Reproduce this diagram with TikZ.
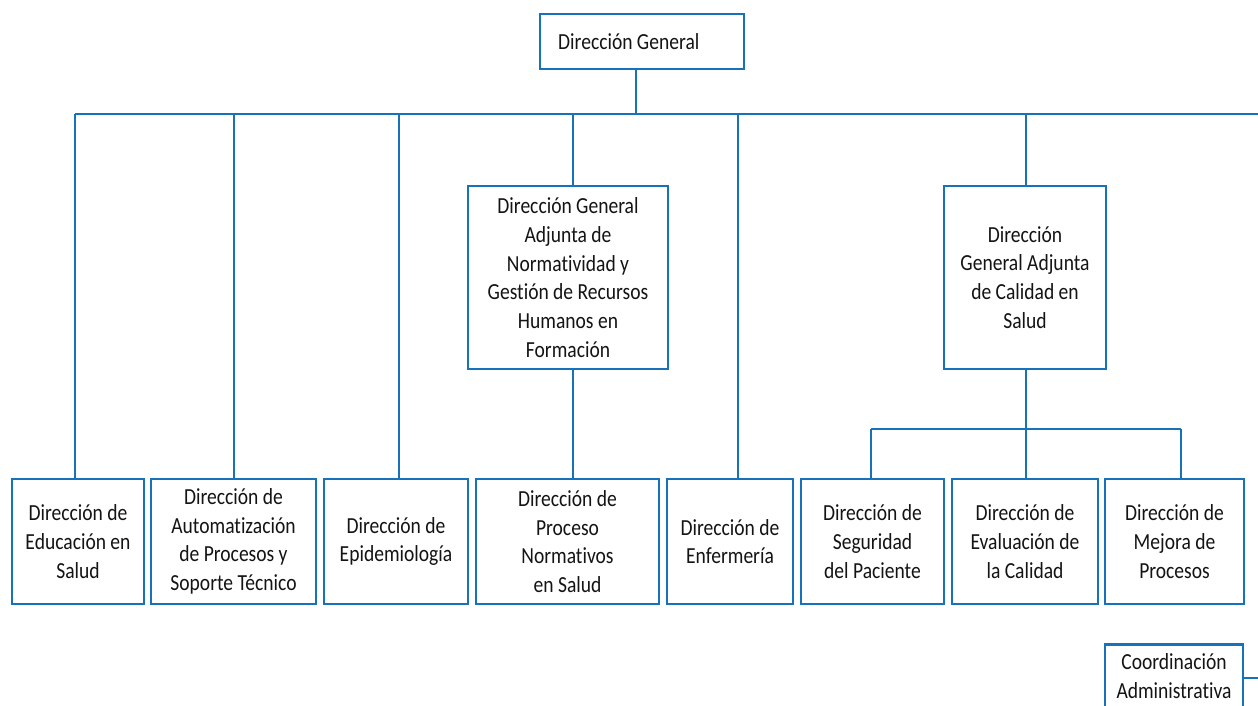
\documentclass[tikz,border=0pt]{standalone}
\usepackage{fontspec}
\setmainfont[FakeStretch=0.85,Ligatures={NoCommon}]{Carlito}
\definecolor{orgblue}{RGB}{24,114,186}
\tikzset{
  txt/.style={font=\fontsize{23}{28.7}\selectfont, text=black!92},
  box/.style={draw=orgblue, line width=2.6pt, fill=white, align=center, inner sep=2pt, txt},
  link/.style={draw=orgblue, line width=2.6pt}
}
\begin{document}
\begin{tikzpicture}[x=1pt,y=-1pt]
\useasboundingbox (0,0) rectangle (1258,705);
% top
\node[box, minimum width=204pt, minimum height=55pt] (top) at (642,41.5) {};
\node[anchor=west, txt, inner sep=0pt] (toptext) at (558,42) {Dirección General};
% middle boxes
\node[box, minimum width=200pt, minimum height=183pt] (norm) at (568,277.5)
  {Dirección General\\Adjunta de\\Normatividad y\\Gestión de Recursos\\Humanos en\\Formación};
\node[box, minimum width=162pt, minimum height=183pt] (cal) at (1025,277.5)
  {Dirección\\General Adjunta\\de Calidad en\\Salud};
% bottom boxes
\node[box, minimum width=132pt, minimum height=125pt] (b1) at (78,541.5) {Dirección de\\Educación en\\Salud};
\node[box, minimum width=165pt, minimum height=125pt] (b2) at (233.5,541.5) {Dirección de\\Automatización\\de Procesos y\\Soporte Técnico};
\node[box, minimum width=144pt, minimum height=125pt] (b3) at (396,541.5) {Dirección de\\Epidemiología};
\node[box, minimum width=183pt, minimum height=125pt] (b4) at (567.5,541.5) {Dirección de\\Proceso\\Normativos\\en Salud};
\node[box, minimum width=126pt, minimum height=125pt] (b5) at (730,541.5) {Dirección de\\Enfermería};
\node[box, minimum width=143pt, minimum height=125pt] (b6) at (872.5,541.5) {Dirección de\\Seguridad\\del Paciente};
\node[box, minimum width=146pt, minimum height=125pt] (b7) at (1025,541.5) {Dirección de\\Evaluación de\\la Calidad};
\node[box, minimum width=139pt, minimum height=125pt] (b8) at (1174.5,541.5) {Dirección de\\Mejora de\\Procesos};
% coordinación (cut off at bottom)
\node[box, minimum width=138pt, minimum height=76pt, anchor=north] (coord) at (1174,643) {};
\node[txt, align=center, inner sep=0pt] (coordtext) at (1174,676) {Coordinación\\Administrativa};
% bus coordinates
\coordinate (bus) at (636,114);
\coordinate (busL) at (75,114);
\coordinate (busR) at (1258,114);
\coordinate (t1) at (75,114);
\coordinate (t2) at (234,114);
\coordinate (t3) at (399,114);
\coordinate (t4) at (573,114);
\coordinate (t5) at (738,114);
\coordinate (t6) at (1026,114);
\coordinate (sub) at (1026,429);
\coordinate (subL) at (871,429);
\coordinate (subR) at (1181,429);
\coordinate (cR) at (1258,678);
% connectors
\draw[link] (top.south -| bus) -- (bus);
\draw[link] (busL) -- (busR);
\draw[link] (t1) -- (t1 |- b1.north);
\draw[link] (t2) -- (t2 |- b2.north);
\draw[link] (t3) -- (t3 |- b3.north);
\draw[link] (t4) -- (t4 |- norm.north);
\draw[link] (t4 |- norm.south) -- (t4 |- b4.north);
\draw[link] (t5) -- (t5 |- b5.north);
\draw[link] (t6) -- (t6 |- cal.north);
\draw[link] (t6 |- cal.south) -- (sub);
\draw[link] (subL) -- (subR);
\draw[link] (subL) -- (subL |- b6.north);
\draw[link] (sub) -- (sub |- b7.north);
\draw[link] (subR) -- (subR |- b8.north);
\draw[link] (coord.east |- cR) -- (cR);
\end{tikzpicture}
\end{document}
